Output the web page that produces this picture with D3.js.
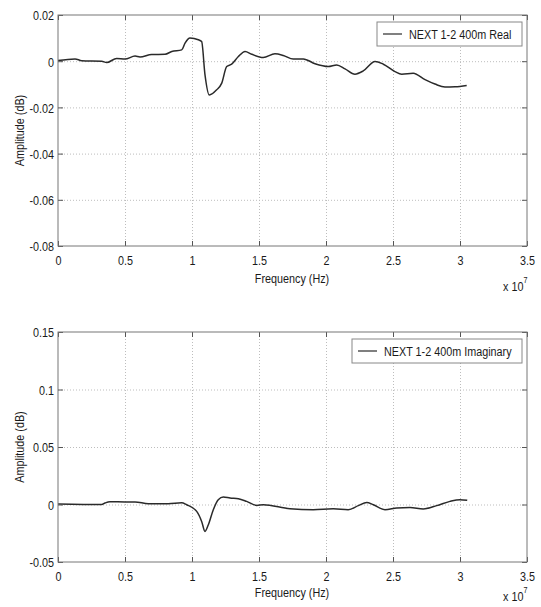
<!DOCTYPE html>
<html><head><meta charset="utf-8">
<script src="https://cdn.jsdelivr.net/npm/d3@7"></script>
<style>
html,body{margin:0;padding:0;background:#fff;}
svg text{font-family:"Liberation Sans",Arial,sans-serif;fill:#1a1a1a;}
</style></head>
<body><div id="chart"></div>
<script>
// ---------- data (frequency in units of 1e7 Hz) ----------
const realFreq = [0,0.127,0.177,0.326,0.363,0.438,0.5,0.575,0.612,0.699,0.799,0.849,0.923,0.948,0.985,1.047,1.072,1.097,1.129,1.184,1.222,1.259,1.296,1.346,1.396,1.446,1.532,1.619,1.681,1.756,1.831,1.918,2.017,2.08,2.142,2.216,2.278,2.366,2.428,2.515,2.565,2.651,2.739,2.813,2.888,2.963,3.05];
const realAmp  = [0.0003,0.001,0.0002,0.0,-0.0006,0.0012,0.0009,0.0022,0.0018,0.0029,0.003,0.0042,0.0049,0.0078,0.01,0.0093,0.0085,-0.0059,-0.0146,-0.0124,-0.0095,-0.0023,-0.0013,0.002,0.0042,0.003,0.0016,0.0032,0.0025,0.0009,0.001,-0.0011,-0.0023,-0.0016,-0.0033,-0.0056,-0.0042,-0.0001,-0.0013,-0.0045,-0.0056,-0.0052,-0.008,-0.0099,-0.0112,-0.0111,-0.0105];

const imagFreq = [0,0.326,0.351,0.388,0.5,0.575,0.674,0.823,0.923,0.96,1.035,1.072,1.097,1.122,1.159,1.196,1.234,1.284,1.346,1.408,1.483,1.532,1.731,1.905,2.054,2.166,2.241,2.304,2.353,2.44,2.528,2.627,2.726,2.826,2.925,3.0,3.054];
const imagAmp  = [0.0005,0.0,0.0013,0.0024,0.0022,0.0022,0.0007,0.0007,0.0015,-0.0002,-0.006,-0.0147,-0.0234,-0.0176,-0.0045,0.0042,0.0065,0.0056,0.005,0.0027,-0.0008,-0.0002,-0.0037,-0.0045,-0.0037,-0.0045,-0.001,0.0018,-0.0002,-0.0045,-0.003,-0.0025,-0.0039,-0.001,0.0027,0.0042,0.0036];

const xTicks = [0,0.5,1,1.5,2,2.5,3,3.5];
const xTickLabels = ["0","0.5","1","1.5","2","2.5","3","3.5"];
const realYTicks = [0.02,0,-0.02,-0.04,-0.06,-0.08];
const realYTickLabels = ["0.02","0","-0.02","-0.04","-0.06","-0.08"];
const imagYTicks = [0.15,0.1,0.05,0,-0.05];
const imagYTickLabels = ["0.15","0.1","0.05","0","-0.05"];
const legendLabels = ["NEXT 1-2 400m Real","NEXT 1-2 400m Imaginary"];
const xLabel = "Frequency (Hz)";
const yLabel = "Amplitude (dB)";

// ---------- drawing ----------
const W = 541, H = 607, SX = 0.8, FS = 13.5;
const svg = d3.select("#chart").append("svg").attr("width", W).attr("height", H);
svg.append("rect").attr("width", W).attr("height", H).attr("fill", "#fff");

function drawPanel(cfg) {
  const x = d3.scaleLinear().domain([0, 3.5]).range([58, 527]);
  const y = d3.scaleLinear().domain(cfg.yDomain).range([cfg.bottom, cfg.top]);
  const g = svg.append("g");
  const h = cfg.bottom - cfg.top, w = 527 - 58;

  // grid
  const gx = g.append("g").attr("transform", `translate(0,${cfg.bottom})`)
    .call(d3.axisBottom(x).tickValues(xTicks.slice(1, -1)).tickSize(-h).tickFormat(""));
  const gy = g.append("g").attr("transform", `translate(58,0)`)
    .call(d3.axisLeft(y).tickValues(cfg.yTicks.slice(1, -1)).tickSize(-w).tickFormat(""));
  [gx, gy].forEach(a => {
    a.select(".domain").remove();
    a.selectAll("line").attr("stroke", "#bdbdbd").attr("stroke-dasharray", "1,2").attr("stroke-width", 1);
  });

  // data line
  const pts = cfg.xs.map((v, i) => [v, cfg.ys[i]]);
  g.append("path").datum(pts)
    .attr("fill", "none").attr("stroke", "#2a2a2a").attr("stroke-width", 1.5)
    .attr("stroke-linejoin", "round")
    .attr("d", d3.line().x(d => x(d[0])).y(d => y(d[1])).curve(d3.curveMonotoneX));

  // axes with inward ticks
  const ab = g.append("g").attr("transform", `translate(0,${cfg.bottom})`)
    .call(d3.axisBottom(x).tickValues(xTicks).tickSize(-5).tickFormat((d, i) => xTickLabels[i]));
  const at = g.append("g").attr("transform", `translate(0,${cfg.top})`)
    .call(d3.axisTop(x).tickValues(xTicks).tickSize(-5).tickFormat(""));
  const al = g.append("g").attr("transform", `translate(58,0)`)
    .call(d3.axisLeft(y).tickValues(cfg.yTicks).tickSize(-5).tickFormat((d, i) => cfg.yLabels[i]));
  const ar = g.append("g").attr("transform", `translate(527,0)`)
    .call(d3.axisRight(y).tickValues(cfg.yTicks).tickSize(-5).tickFormat(""));
  [ab, at, al, ar].forEach(a => {
    a.select(".domain").remove();
    a.selectAll("line").attr("stroke", "#555");
  });
  ab.selectAll("text").attr("y", 19).attr("dy", null)
    .attr("transform", `scale(${SX},1)`).style("font-size", FS + "px").attr("fill", "#1a1a1a");
  al.selectAll("text").attr("x", -4 / SX).attr("dy", "0.36em")
    .attr("transform", `scale(${SX},1)`).style("font-size", FS + "px").attr("fill", "#1a1a1a");

  // box
  g.append("rect").attr("x", 58).attr("y", cfg.top).attr("width", w).attr("height", h)
    .attr("fill", "none").attr("stroke", "#777").attr("stroke-width", 1);

  // labels
  const t1 = g.append("g").attr("transform", `translate(292,${cfg.bottom + cfg.xlOff}) scale(${SX},1)`);
  t1.append("text").attr("text-anchor", "middle").style("font-size", FS + "px").text(xLabel);
  const t2 = g.append("g").attr("transform", `translate(503,${cfg.bottom + cfg.expOff}) scale(${SX},1)`);
  const tt = t2.append("text").style("font-size", FS + "px");
  tt.append("tspan").text("x 10");
  tt.append("tspan").attr("dy", -8).style("font-size", "9px").text("7");
  const t3 = g.append("g").attr("transform", `translate(24,${(cfg.top + cfg.bottom) / 2}) rotate(-90) scale(${SX},1)`);
  t3.append("text").attr("text-anchor", "middle").style("font-size", FS + "px").text(yLabel);

  // legend
  const L = cfg.legend;
  g.append("rect").attr("x", L.x).attr("y", L.y).attr("width", L.w).attr("height", 24)
    .attr("fill", "#fff").attr("stroke", "#888");
  g.append("line").attr("x1", L.x + 6).attr("x2", L.x + 25).attr("y1", L.y + 12).attr("y2", L.y + 12)
    .attr("stroke", "#2a2a2a").attr("stroke-width", 1.2);
  const lt = g.append("g").attr("transform", `translate(${L.x + 32},${L.y + 17}) scale(${SX},1)`);
  lt.append("text").style("font-size", FS + "px").text(cfg.legendText);
}

drawPanel({
  top: 15, bottom: 246, yDomain: [-0.08, 0.02],
  yTicks: realYTicks, yLabels: realYTickLabels,
  xs: realFreq, ys: realAmp, xlOff: 37, expOff: 45,
  legend: {x: 377, y: 22, w: 145}, legendText: legendLabels[0]
});
drawPanel({
  top: 332, bottom: 562, yDomain: [-0.05, 0.15],
  yTicks: imagYTicks, yLabels: imagYTickLabels,
  xs: imagFreq, ys: imagAmp, xlOff: 35, expOff: 39,
  legend: {x: 352, y: 339, w: 170}, legendText: legendLabels[1]
});
</script></body></html>
